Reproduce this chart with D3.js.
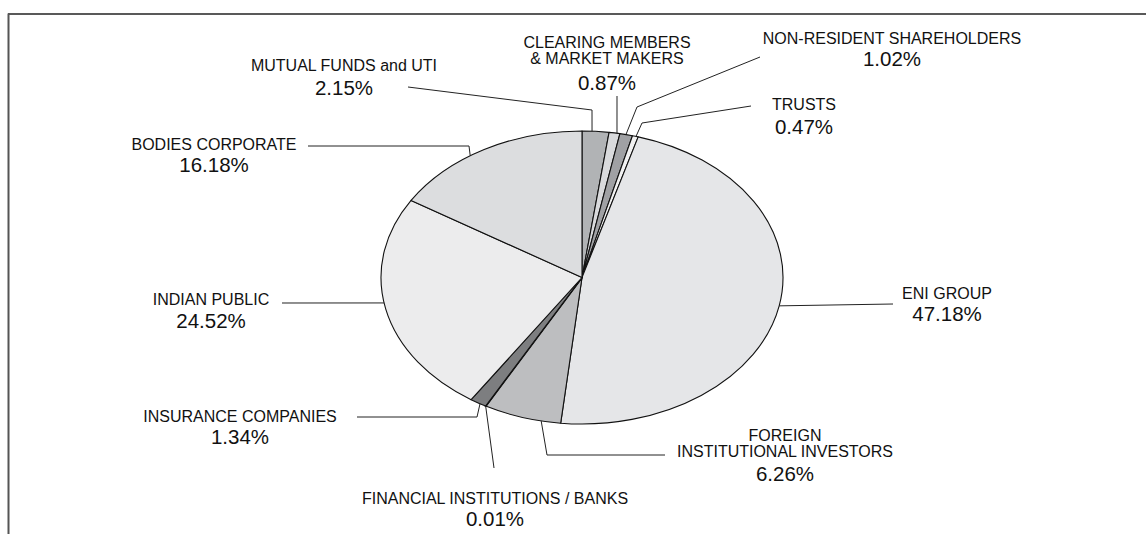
<!DOCTYPE html>
<html>
<head>
<meta charset="utf-8">
<script src="https://cdn.jsdelivr.net/npm/d3@7"></script>
<style>
  body { margin: 0; background: #fff; }
  text { font-family: "Liberation Sans", Arial, sans-serif; fill: #111; }
  .name { font-size: 16px; }
  .pct { font-size: 20.5px; }
  .slice { stroke: #111; stroke-width: 1.1; vector-effect: non-scaling-stroke; stroke-linejoin: round; }
  .leader { fill: none; stroke: #222; stroke-width: 1; }
</style>
</head>
<body>
<script>

// shareholding pattern, clockwise from 12 o'clock
var categories = ["MUTUAL FUNDS and UTI", "CLEARING MEMBERS\n& MARKET MAKERS",
  "NON-RESIDENT SHAREHOLDERS", "TRUSTS", "ENI GROUP", "FOREIGN\nINSTITUTIONAL INVESTORS",
  "FINANCIAL INSTITUTIONS / BANKS", "INSURANCE COMPANIES", "INDIAN PUBLIC", "BODIES CORPORATE"];
var shares = [2.15, 0.87, 1.02, 0.47, 47.18, 6.26, 0.01, 1.34, 24.52, 16.18];
var fills = ["#b1b3b5", "#d9dadc", "#a0a1a4", "#f2f2f2", "#e5e6e8",
  "#bdbec0", "#444444", "#7d7e80", "#ececed", "#dcdddf"];

// label placement: text centre, baseline of the last name line, percent baseline,
// where the leader touches the slice (0..1) and the bends of the leader line
var labelX   = [344, 607, 892, 804, 947, 785, 495, 240, 211, 214];
var nameY    = [71, 63.5, 43.5, 110, 298.5, 456.5, 503.5, 421.5, 305, 150];
var lineGap  = 15.5;
var pctY     = [94.5, 90, 66, 134, 321, 481, 526, 443.5, 327.5, 172];
var attachAt = [0.37, 0.73, 0.48, 0.62, 0.5, 0.25, 0.5, 0.38, 0.527, 0.42];
var bends = [
  [[408, 87], [592, 110]],
  [[617, 96]],
  [[760, 57], [637, 107]],
  [[751, 106], [642, 123]],
  [[893, 304]],
  [[665, 455], [547, 455]],
  [[494, 468]],
  [[357, 417], [477, 417]],
  [[282, 303]],
  [[308, 146], [469, 146]]
];

var width = 1146, height = 534;
var cx = 582, cy = 277.5, rx = 201, ry = 146.5;

var data = categories.map(function(c, i) { return {name: c, value: shares[i], i: i}; });

var svg = d3.select("body").append("svg")
  .attr("width", width)
  .attr("height", height);

// frame (top and left edge only)
svg.append("line")
  .attr("x1", 8).attr("x2", width).attr("y1", 14).attr("y2", 14)
  .attr("stroke", "#222").attr("stroke-width", 1.5);
svg.append("line")
  .attr("x1", 8.5).attr("x2", 8.5).attr("y1", 13.5).attr("y2", height)
  .attr("stroke", "#555").attr("stroke-width", 2);

var pie = d3.pie()
  .value(function(d) { return d.value; })
  .sort(null);

var arcs = pie(data);

var arc = d3.arc()
  .innerRadius(0)
  .outerRadius(ry);

// the pie is a circle squeezed into an ellipse
var gPie = svg.append("g")
  .attr("transform", "translate(" + cx + "," + cy + ") scale(" + (rx / ry) + ",1)");

gPie.selectAll(".slice")
  .data(arcs)
  .enter()
  .append("path")
  .attr("class", "slice")
  .attr("fill", function(d) { return fills[d.index]; })
  .style("stroke-width", function(d) { return d.data.value < 0.1 ? 2 : null; })
  .attr("d", arc);

/* point on the rim of the ellipse for a slice */
function rimPoint(d) {
  var a = d.startAngle + attachAt[d.index] * (d.endAngle - d.startAngle);
  return [cx + rx * Math.sin(a), cy - ry * Math.cos(a)];
}

var line = d3.line();

svg.append("g").attr("id", "leaders")
  .selectAll(".leader")
  .data(arcs)
  .enter()
  .append("path")
  .attr("class", "leader")
  .attr("d", function(d) { return line(bends[d.index].concat([rimPoint(d)])); });

var label = svg.append("g").attr("id", "labels")
  .selectAll(".label")
  .data(arcs)
  .enter()
  .append("g")
  .attr("class", "label");

label.each(function(d) {
  var g = d3.select(this);
  var lines = d.data.name.split("\n");
  var y0 = nameY[d.index] - (lines.length - 1) * lineGap;
  lines.forEach(function(t, k) {
    g.append("text")
      .attr("class", "name")
      .attr("x", labelX[d.index])
      .attr("y", y0 + k * lineGap)
      .attr("text-anchor", "middle")
      .text(t);
  });
  g.append("text")
    .attr("class", "pct")
    .attr("x", labelX[d.index])
    .attr("y", pctY[d.index])
    .attr("text-anchor", "middle")
    .text(d3.format(".2f")(d.data.value) + "%");
});

</script>
</body>
</html>
